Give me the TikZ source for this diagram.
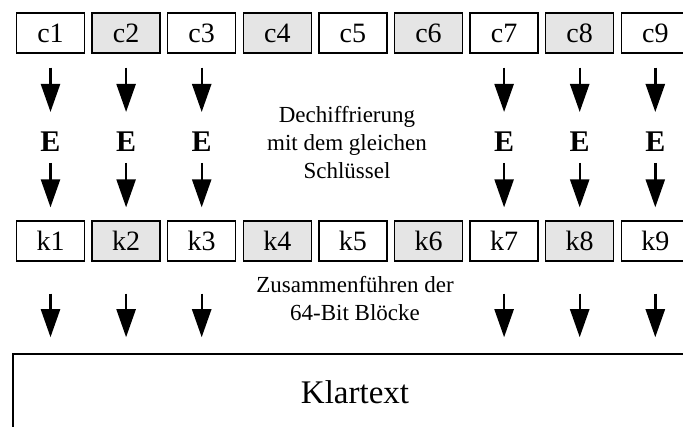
\documentclass[tikz,border=0pt]{standalone}
\usepackage{fontspec}
\setmainfont{Liberation Serif}
\usetikzlibrary{arrows.meta}
\begin{document}
\begin{tikzpicture}[x=1pt,y=-1pt,
  blk/.style={draw, line width=1.3pt, minimum width=68pt, minimum height=40pt,
    inner sep=0pt, font=\fontsize{28}{30}\selectfont},
  enc/.style={font=\fontsize{30}{32}\selectfont\bfseries, inner sep=0pt},
  note/.style={align=center, font=\fontsize{23}{28}\selectfont},
  flow/.style={line width=2.4pt, -{Triangle[length=28pt,width=19pt]}},
  plain/.style={draw, line width=1.5pt, minimum width=684pt, minimum height=76pt,
    font=\fontsize{33}{36}\selectfont},
]
\useasboundingbox (0,0) rectangle (683,427);

% cipher blocks and decrypted blocks, every second one shaded
\foreach \i in {1,...,9} {
  \pgfmathsetmacro\cx{50.5+75.6*(\i-1)}
  \ifodd\i \def\clr{white}\else\def\clr{gray!20}\fi
  \node[blk, fill=\clr] (c\i) at (\cx,33) {c\i};
  \node[blk, fill=\clr] (k\i) at (\cx,241) {k\i};
}

% merged plaintext
\node[plain] (klar) at (355,392) {Klartext};

% notes in the middle
\node[note] (dech) at (347,143) {Dechiffrierung\\mit dem gleichen\\Schlüssel};
\node[note] (merge) at (355,299) {Zusammenführen der\\64-Bit Blöcke};

% decryption steps
\foreach \i in {1,2,3,7,8,9} {
  \pgfmathsetmacro\cx{50.5+75.6*(\i-1)}
  \node[enc] (e\i) at (\cx,142) {E};
  \draw[flow, shorten <=14pt, shorten >=30pt] (c\i.south) -- (e\i.center);
  \draw[flow, shorten <=21pt, shorten >=13pt] (e\i.center) -- (k\i.north);
  \draw[flow, shorten <=32pt, shorten >=16pt] (k\i.south) -- (k\i.south |- klar.north);
}
\end{tikzpicture}
\end{document}
